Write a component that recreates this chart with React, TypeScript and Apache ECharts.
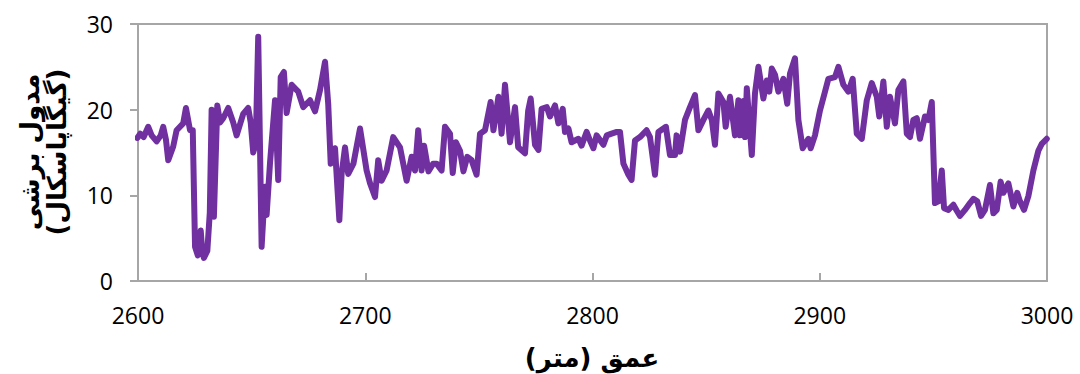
import React, { useEffect, useRef } from "react";
import * as echarts from "echarts";

// Depth (m) and shear modulus (GPa) samples along the well
const depths = [
  2599.7, 2601, 2602.5, 2604.5, 2606, 2608.2, 2610, 2611.1, 2612.3, 2613.3, 2615.5, 2617.0, 2619.9,
  2621.1, 2622.9, 2624.1, 2625.1, 2626.3, 2627.6, 2628.3, 2629.0, 2630.5, 2631.6, 2632.4, 2633.4,
  2634.9, 2636.1, 2637.5, 2639.7, 2641.9, 2643.4, 2646.3, 2648.5, 2649.6, 2650.7, 2651.8, 2652.9,
  2654.4, 2655.9, 2656.6, 2658.1, 2660.3, 2661.7, 2662.8, 2664.2, 2665.4, 2667.6, 2670.5, 2672.7,
  2675.7, 2677.9, 2680.1, 2682.3, 2683.7, 2684.8, 2686.7, 2688.6, 2689.6, 2691.1, 2692.5, 2694.8,
  2697.7, 2700.6, 2702.1, 2704.3, 2705.7, 2707.2, 2709.4, 2712.3, 2715.3, 2718.2, 2720.4, 2721.9,
  2723.3, 2724.8, 2725.9, 2727.8, 2729.9, 2731.4, 2733.6, 2735.1, 2737.3, 2738.5, 2739.9, 2741.7,
  2743.2, 2744.9, 2746.8, 2749.0, 2750.5, 2752.7, 2755.2, 2756.4, 2758.6, 2760.0, 2761.5, 2763.7,
  2765.9, 2767.3, 2770.3, 2771.7, 2772.8, 2774.7, 2776.2, 2777.6, 2779.9, 2781.3, 2783.5, 2785.0,
  2786.9, 2787.9, 2789.4, 2790.8, 2793.8, 2795.2, 2797.4, 2798.9, 2800.4, 2801.8, 2804.8, 2806.3,
  2808.4, 2810.7, 2812.1, 2813.6, 2815.8, 2817.2, 2818.7, 2820.9, 2823.8, 2825.3, 2827.5, 2829.0,
  2832.3, 2834.1, 2836.3, 2837.0, 2838.5, 2840.7, 2842.9, 2845.1, 2846.6, 2848.8, 2851.0, 2852.5,
  2853.9, 2855.4, 2857.6, 2858.6, 2860.5, 2862.7, 2864.2, 2864.9, 2866.4, 2867.1, 2867.9, 2870.1,
  2871.5, 2873.0, 2875.2, 2876.7, 2877.8, 2878.9, 2880.3, 2881.8, 2884.0, 2885.7, 2886.9, 2889.1,
  2890.6, 2892.5, 2895.0, 2896.0, 2897.9, 2900.1, 2902.3, 2903.8, 2906.7, 2908.2, 2910.4, 2912.6,
  2914.5, 2916.3, 2918.5, 2920.7, 2922.9, 2925.1, 2926.2, 2928.0, 2929.5, 2930.9, 2933.1, 2934.6,
  2936.8, 2938.3, 2939.7, 2941.2, 2942.7, 2944.1, 2946.3, 2947.8, 2949.3, 2950.7, 2952.2, 2953.7,
  2954.7, 2956.6, 2958.8, 2960.3, 2961.7, 2963.9, 2966.1, 2967.6, 2969.3, 2971.0, 2972.7, 2974.9,
  2976.4, 2977.9, 2979.6, 2980.8, 2983.0, 2985.2, 2986.9, 2988.1, 2989.9, 2991.8, 2994.0, 2996.2,
  2997.7, 2999.9,
];

const shearModulus = [
  16.7, 17.2, 16.8, 18.0, 17.0, 16.3, 17.0, 18.0, 16.5, 14.1, 15.7, 17.6, 18.4,
  20.2, 17.6, 17.6, 4.0, 3.0, 5.9, 3.4, 2.7, 3.5, 8.0, 20.0, 7.5,
  20.5, 18.5, 19.0, 20.2, 18.5, 17.0, 19.5, 20.2, 18.5, 15.0, 16.0, 28.5,
  4.0, 11.0, 7.7, 13.8, 21.1, 11.8, 23.8, 24.4, 19.6, 22.9, 22.1, 20.3,
  21.1, 19.8, 22.3, 25.6, 20.7, 13.7, 15.5, 7.1, 12.5, 15.6, 12.5, 13.7,
  17.8, 12.9, 11.4, 9.8, 14.1, 11.7, 12.9, 16.8, 15.6, 11.7, 14.5, 12.9,
  17.6, 12.9, 15.8, 12.8, 13.7, 13.7, 12.9, 18.0, 17.2, 12.6, 16.2, 15.2,
  12.8, 14.5, 14.1, 12.4, 17.2, 17.6, 20.9, 17.6, 21.5, 17.2, 22.9, 16.2,
  20.3, 15.6, 14.9, 19.9, 21.3, 15.9, 15.3, 20.1, 20.3, 19.2, 20.5, 18.4,
  20.1, 17.4, 17.8, 16.2, 16.6, 15.8, 17.4, 16.4, 15.5, 17.0, 15.9, 17.0,
  17.2, 17.4, 17.4, 13.7, 12.4, 11.8, 16.4, 16.8, 17.6, 16.8, 12.4, 17.4,
  18.0, 14.7, 14.7, 17.0, 15.1, 18.8, 20.3, 21.7, 17.6, 18.8, 19.9, 18.8,
  15.9, 21.9, 20.9, 18.0, 21.5, 17.0, 21.1, 17.0, 21.0, 16.8, 22.5, 14.7,
  21.9, 25.0, 21.3, 23.4, 22.1, 24.8, 24.1, 22.1, 23.6, 20.7, 24.2, 26.0,
  18.8, 15.5, 16.6, 15.5, 17.0, 19.9, 22.1, 23.6, 23.8, 25.0, 22.9, 22.1,
  23.6, 17.2, 16.6, 21.1, 23.1, 21.5, 19.2, 23.3, 18.0, 21.5, 18.4, 22.3,
  23.3, 17.2, 16.8, 18.8, 19.0, 16.6, 19.2, 18.8, 20.9, 9.1, 9.3, 12.9,
  8.5, 8.3, 8.9, 8.2, 7.6, 8.3, 9.1, 9.6, 9.3, 7.6, 8.3, 11.2,
  7.9, 8.3, 11.6, 10.3, 11.4, 8.7, 10.3, 9.3, 8.3, 9.9, 12.9, 15.2,
  16.0, 16.6,
];

const xTitle = "عمق (متر)";
const yTitleLine1 = "مدول برشی";
const yTitleLine2 = "(گیگاپاسکال)";

const tickFont = "'Open Sans', sans-serif";
const arabicFont = "'DejaVu Sans', sans-serif";
const axisGray = "#a6a6a6";

export default function App() {
  const ref = useRef<HTMLDivElement>(null);

  useEffect(() => {
    if (!ref.current) return;
    const chart = echarts.init(ref.current, null, { renderer: "svg" });
    const points = depths.map((d, i) => [d, shearModulus[i]]);

    chart.setOption({
      animation: false,
      backgroundColor: "#ffffff",
      grid: {
        left: 138,
        right: 33,
        top: 24,
        bottom: 93,
        show: true,
        borderColor: axisGray,
        borderWidth: 2,
        backgroundColor: "transparent",
      },
      xAxis: {
        type: "value",
        min: 2600,
        max: 3000,
        interval: 100,
        axisLine: { show: true, lineStyle: { color: axisGray, width: 2 } },
        axisTick: { show: true, inside: true, length: 8, lineStyle: { color: axisGray, width: 2 } },
        splitLine: { show: false },
        axisLabel: {
          color: "#000",
          fontSize: 23,
          fontFamily: tickFont,
          margin: 22,
          formatter: (v: number) => String(v),
        },
      },
      yAxis: {
        type: "value",
        min: 0,
        max: 30,
        interval: 10,
        axisLine: { show: true, lineStyle: { color: axisGray, width: 2 } },
        axisTick: { show: true, inside: false, length: 8, lineStyle: { color: axisGray, width: 2 } },
        splitLine: { show: false },
        axisLabel: {
          color: "#000",
          fontSize: 23,
          fontFamily: tickFont,
          margin: 25,
          formatter: (v: number) => String(v),
        },
      },
      graphic: [
        {
          type: "text",
          x: 592,
          y: 358,
          style: {
            text: xTitle,
            fontSize: 26,
            fontWeight: "bold",
            fontFamily: arabicFont,
            fill: "#000",
            align: "center",
            verticalAlign: "middle",
          },
        },
        {
          type: "text",
          x: 30,
          y: 152,
          rotation: Math.PI / 2,
          style: {
            text: yTitleLine1,
            fontSize: 26,
            fontWeight: "bold",
            fontFamily: arabicFont,
            fill: "#000",
            align: "center",
            verticalAlign: "middle",
          },
        },
        {
          type: "text",
          x: 57,
          y: 152,
          rotation: Math.PI / 2,
          style: {
            text: yTitleLine2,
            fontSize: 26,
            fontWeight: "bold",
            fontFamily: arabicFont,
            fill: "#000",
            align: "center",
            verticalAlign: "middle",
          },
        },
      ],
      series: [
        {
          type: "line",
          data: points,
          showSymbol: false,
          symbol: "none",
          lineStyle: { color: "#7030A0", width: 6, join: "round", cap: "round" },
        },
      ],
    });

    return () => chart.dispose();
  }, []);

  return (
    <div
      ref={ref}
      style={{ position: "fixed", left: 0, top: 0, width: 1080, height: 374 }}
    />
  );
}
